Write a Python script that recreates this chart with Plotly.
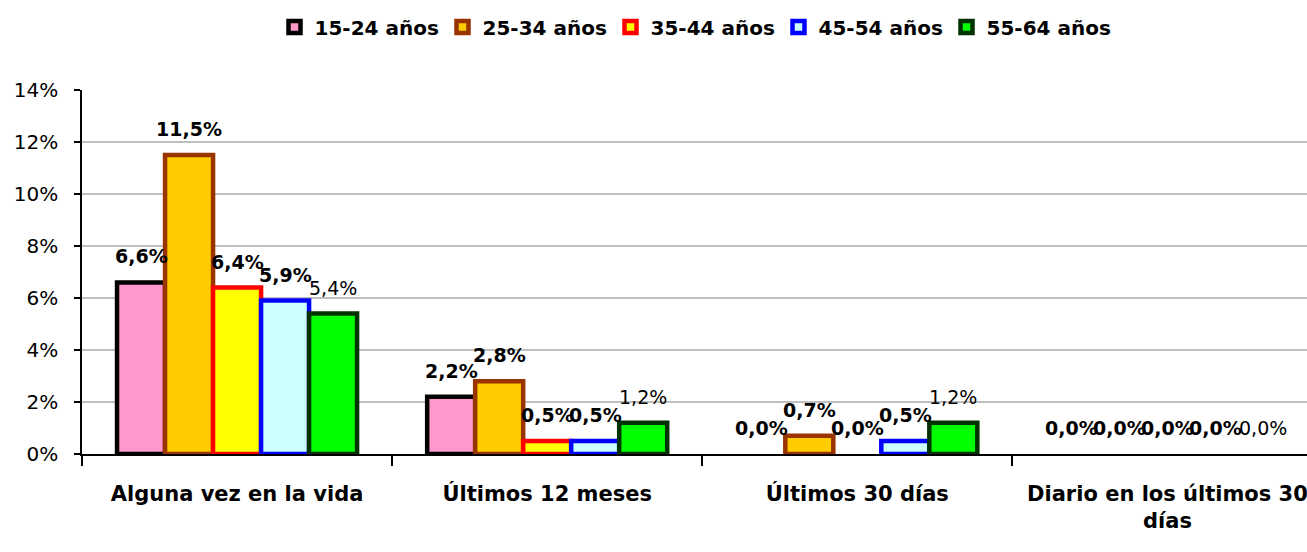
import plotly.graph_objects as go

categories = ["Alguna vez en la vida", "Últimos 12 meses", "Últimos 30 días",
              "Diario en los últimos 30<br>días"]
series_names = ["15-24 años", "25-34 años", "35-44 años", "45-54 años", "55-64 años"]
v_15_24 = [6.6, 2.2, 0.0, 0.0]
v_25_34 = [11.5, 2.8, 0.7, 0.0]
v_35_44 = [6.4, 0.5, 0.0, 0.0]
v_45_54 = [5.9, 0.5, 0.5, 0.0]
v_55_64 = [5.4, 1.2, 1.2, 0.0]
series_values = [v_15_24, v_25_34, v_35_44, v_45_54, v_55_64]
y_ticks = [0, 2, 4, 6, 8, 10, 12, 14]

fills = ["#FF99CC", "#FFCC00", "#FFFF00", "#CCFFFF", "#00FF00"]
lines = ["#000000", "#993300", "#FF0000", "#0000FF", "#003300"]
label_bold = [True, True, True, True, False]

FONT = "DejaVu Sans"
BARGAP = 0.226
n = len(series_names)

def fmt(v):
    return f"{v:.1f}".replace(".", ",") + "%"

fig = go.Figure()
for i, (name, vals) in enumerate(zip(series_names, series_values)):
    fig.add_trace(go.Bar(
        name=name, x=categories, y=vals,
        marker=dict(color=fills[i],
                    line=dict(color=lines[i], width=[4.5 if v > 0 else 0 for v in vals])),
        hoverinfo="skip",
    ))

annotations = []
w = (1 - BARGAP) / n
for i, vals in enumerate(series_values):
    for c, v in enumerate(vals):
        annotations.append(dict(
            x=c + (i - (n - 1) / 2) * w, y=v, xref="x", yref="y",
            text=fmt(v), showarrow=False, yanchor="middle", yshift=26,
            font=dict(family=FONT, size=19, color="#000000",
                      weight="bold" if label_bold[i] else "normal"),
        ))

fig.update_layout(
    width=1307, height=552,
    margin=dict(l=82, r=0, t=90, b=98, autoexpand=False),
    paper_bgcolor="white", plot_bgcolor="white",
    barmode="group", bargap=BARGAP, bargroupgap=0,
    font=dict(family=FONT, size=20, color="#000000"),
    legend=dict(orientation="h", x=0.5, xanchor="center", y=1 - 27 / 552,
                yref="container", yanchor="middle",
                font=dict(family=FONT, size=20, weight="bold"),
                entrywidth=123, entrywidthmode="pixels"),
    annotations=annotations,
    showlegend=True,
)
fig.update_xaxes(
    type="category", range=[-0.5, 3.45], automargin=False,
    showline=True, linecolor="#000000", linewidth=1.5,
    ticks="outside", tickson="boundaries", ticklen=10, tickcolor="#000000", tickwidth=1.5,
    tickfont=dict(family=FONT, size=21, weight="bold"),
    ticklabelstandoff=20, showgrid=False,
)
fig.update_yaxes(
    range=[0, 14], tickvals=y_ticks, ticktext=[f"{t}%" for t in y_ticks],
    automargin=False,
    showline=True, linecolor="#000000", linewidth=1.5,
    ticks="outside", ticklen=6, tickcolor="#000000", tickwidth=1.5,
    tickfont=dict(family=FONT, size=20),
    ticklabelstandoff=12,
    showgrid=True, gridcolor="#BFBFBF", gridwidth=1.5, zeroline=False,
)
fig.write_html(
    "out.html",
    config={"displayModeBar": False},
    post_script="document.body.style.margin='0';document.body.style.overflow='hidden';",
)
